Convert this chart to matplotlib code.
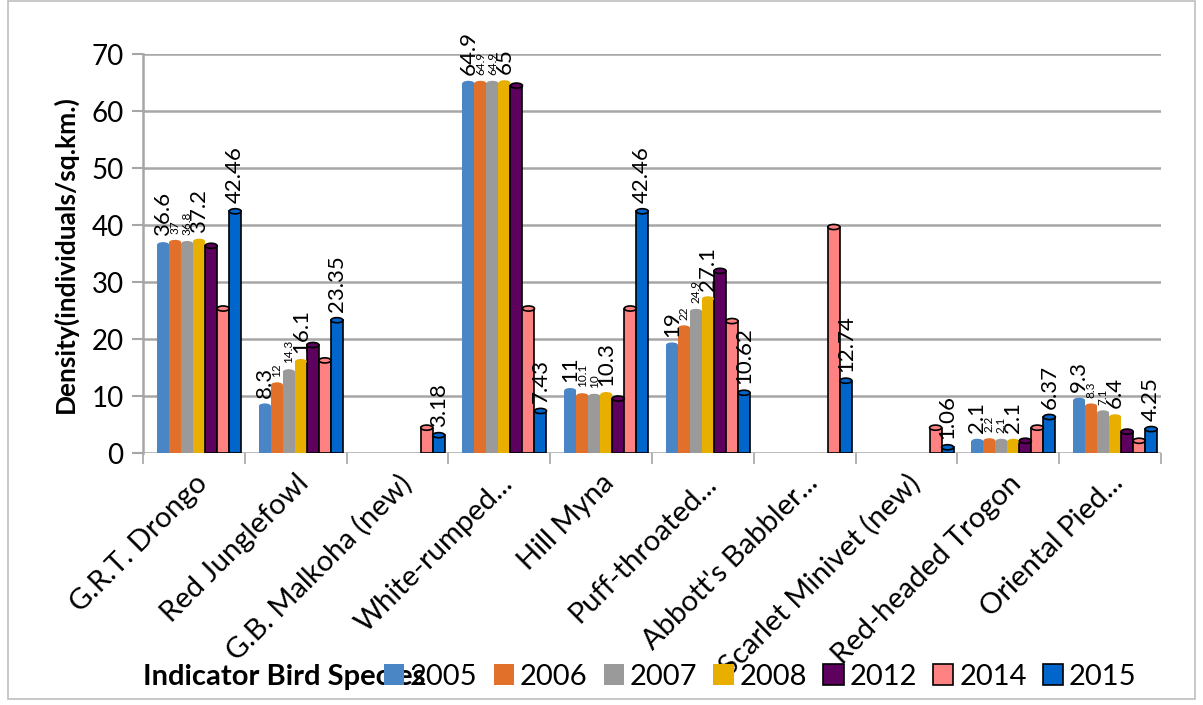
import numpy as np
import matplotlib.pyplot as plt
from matplotlib.patches import Ellipse, Rectangle

plt.rcParams['font.family'] = ['Lato', 'DejaVu Sans']

species = ["G.R.T. Drongo", "Red Junglefowl", "G.B. Malkoha (new)", "White-rumped...",
           "Hill Myna", "Puff-throated...", "Abbott's Babbler...", "Scarlet Minivet (new)",
           "Red-headed Trogon", "Oriental Pied..."]
years = ["2005", "2006", "2007", "2008", "2012", "2014", "2015"]

nan = np.nan
d2005 = [36.6, 8.3, nan, 64.9, 11, 19, nan, nan, 2.1, 9.3]
d2006 = [37, 12, nan, 64.9, 10.1, 22, nan, nan, 2.2, 8.3]
d2007 = [36.8, 14.3, nan, 64.9, 10, 24.9, nan, nan, 2.1, 7.1]
d2008 = [37.2, 16.1, nan, 65, 10.3, 27.1, nan, nan, 2.1, 6.4]
d2012 = [36.4, 19.0, nan, 64.5, 9.6, 32.0, nan, nan, 2.2, 3.8]
d2014 = [25.4, 16.3, 4.5, 25.4, 25.4, 23.2, 39.7, 4.5, 4.5, 2.2]
d2015 = [42.46, 23.35, 3.18, 7.43, 42.46, 10.62, 12.74, 1.06, 6.37, 4.25]

series = [d2005, d2006, d2007, d2008, d2012, d2014, d2015]
colors = ['#4A86C5', '#E0702A', '#9A9A9A', '#E8AF00', '#5E005E', '#FF8282', '#0066CC']
edges = [None, None, None, None, 'black', 'black', 'black']
# label font size per series (0 = no label)
label_size = [16, 8.5, 8.5, 16, 0, 0, 16]

fig = plt.figure(figsize=(12.03, 7.05), dpi=100)
ax = fig.add_axes([0.119, 0.357, 0.846, 0.566])

x = np.arange(len(species))
bw = 0.118
grid_c = '#A6A6A6'

for v in range(0, 71, 10):
    ax.axhline(v, color=grid_c, lw=1.8, zorder=0)

for i, (vals, c, ec) in enumerate(zip(series, colors, edges)):
    xs = x - 0.304 + bw * i
    vals = np.array(vals, dtype=float)
    ok = ~np.isnan(vals)
    lw = 1.2 if ec else 0
    ax.bar(xs[ok], vals[ok], width=bw, color=c, edgecolor=ec if ec else c,
           linewidth=lw, zorder=3, label=years[i])
    for xx, vv in zip(xs[ok], vals[ok]):
        cap = Ellipse((xx, vv), bw, 0.9, facecolor=c, edgecolor=ec if ec else c,
                      linewidth=lw, zorder=4)
        ax.add_patch(cap)
        if label_size[i]:
            ax.annotate(f"{vv:g}", (xx, vv), xytext=(0, 6), textcoords='offset points',
                        rotation=90, ha='center', va='bottom',
                        fontsize=label_size[i], zorder=5)

ax.set_xlim(-0.5, len(species) - 0.5)
ax.set_ylim(0, 70)
ax.set_yticks(range(0, 71, 10))
ax.tick_params(axis='y', labelsize=20, length=8, color=grid_c, width=1.5, pad=6)
ax.set_xticks(x)
ax.set_xticklabels(species, rotation=45, ha='right', va='top', rotation_mode='anchor',
                   fontsize=21)
ax.tick_params(axis='x', length=0, pad=12)
ax.set_xticks(np.arange(-0.5, len(species)), minor=True)
ax.tick_params(axis='x', which='minor', length=8, color=grid_c, width=1.2)

for s in ['top', 'right', 'bottom']:
    ax.spines[s].set_visible(False)
ax.spines['left'].set_color(grid_c)
ax.spines['left'].set_linewidth(1.8)

ax.set_ylabel("Density(individuals/sq.km.)", fontsize=19, fontweight='bold', labelpad=10)

fig.text(0.119, 0.04, "Indicator Bird Species", fontsize=21, fontweight='bold',
         ha='left', va='center')

handles, labels = ax.get_legend_handles_labels()
fig.legend(handles, labels, loc='center', bbox_to_anchor=(0.632, 0.04), ncol=7,
           frameon=False, fontsize=21, handlelength=0.7, handleheight=0.7,
           columnspacing=0.55, handletextpad=0.2)

fig.patches.append(Rectangle((0.007, 0.008), 0.986, 0.99, transform=fig.transFigure,
                             fill=False, edgecolor='#BFBFBF', lw=1.2))

fig.savefig("out.png", dpi=100)
